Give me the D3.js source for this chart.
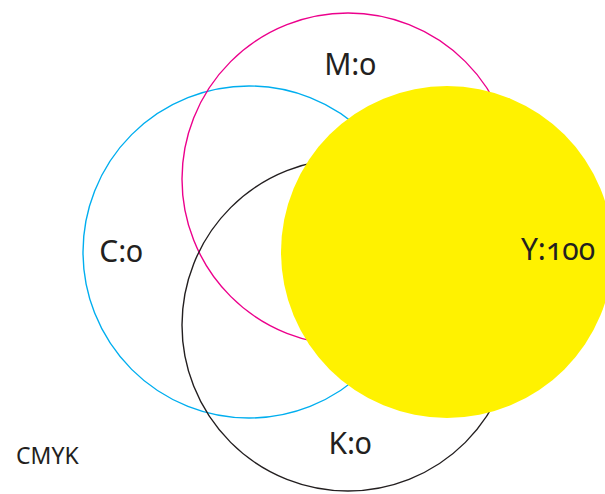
<!DOCTYPE html>
<html>
<head>
<meta charset="utf-8">
<script src="https://cdn.jsdelivr.net/npm/d3@7"></script>
<style>
  html, body { margin: 0; padding: 0; background: #fff; }
  svg text { font-family: "Noto Sans", "Open Sans", sans-serif; font-variant-numeric: oldstyle-nums; fill: #231f20; }
</style>
</head>
<body>
<div id="chart"></div>
<script>
// CMYK channel values (percent)
const CHANNELS = ["C", "M", "Y", "K"];
const VALUES = [0, 0, 100, 0];
const COLORS = ["#00aeef", "#ec008c", "#fff200", "#231f20"];
const TITLE = "CMYK";

const width = 605, height = 494;
const radius = 166;

const svg = d3.select("#chart").append("svg")
    .attr("width", width)
    .attr("height", height);

// circles sit on a diamond: C left, Y right, M top, K bottom
const x = d3.scalePoint().domain(["C", "MK", "Y"]).range([249, 447]);
const y = d3.scalePoint().domain(["M", "CY", "K"]).range([179, 325]);
const col = c => (c === "M" || c === "K") ? "MK" : c;
const row = c => (c === "C" || c === "Y") ? "CY" : c;

const fill = d3.scaleLinear().domain([0, 100]).range([0, 1]);

const data = CHANNELS.map((c, i) => ({ key: c, value: VALUES[i], color: COLORS[i] }));

// filled circles drawn last so they cover the outlines
const order = ["C", "M", "K", "Y"];
const sorted = order.map(k => data.find(d => d.key === k));

svg.selectAll("circle.ch")
    .data(sorted)
    .enter().append("circle")
    .attr("class", "ch")
    .attr("cx", d => x(col(d.key)))
    .attr("cy", d => y(row(d.key)))
    .attr("r", radius)
    .attr("fill", d => d.color)
    .attr("fill-opacity", d => fill(d.value))
    .attr("stroke", d => d.color)
    .attr("stroke-width", d => d.value > 0 ? 0 : 1.4);

// label offsets from each circle's centre
const labelOffset = {
    C: [-128, 10],
    M: [2, -104],
    Y: [111, 8],
    K: [2, 129]
};

svg.selectAll("text.lbl")
    .data(data)
    .enter().append("text")
    .attr("class", "lbl")
    .attr("x", d => x(col(d.key)) + labelOffset[d.key][0])
    .attr("y", d => y(row(d.key)) + labelOffset[d.key][1])
    .attr("text-anchor", "middle")
    .style("font-size", "30px")
    .text(d => d.key + ":" + d.value);

svg.append("text")
    .attr("x", 16)
    .attr("y", 464)
    .style("font-size", "23px")
    .text(TITLE);
</script>
</body>
</html>
